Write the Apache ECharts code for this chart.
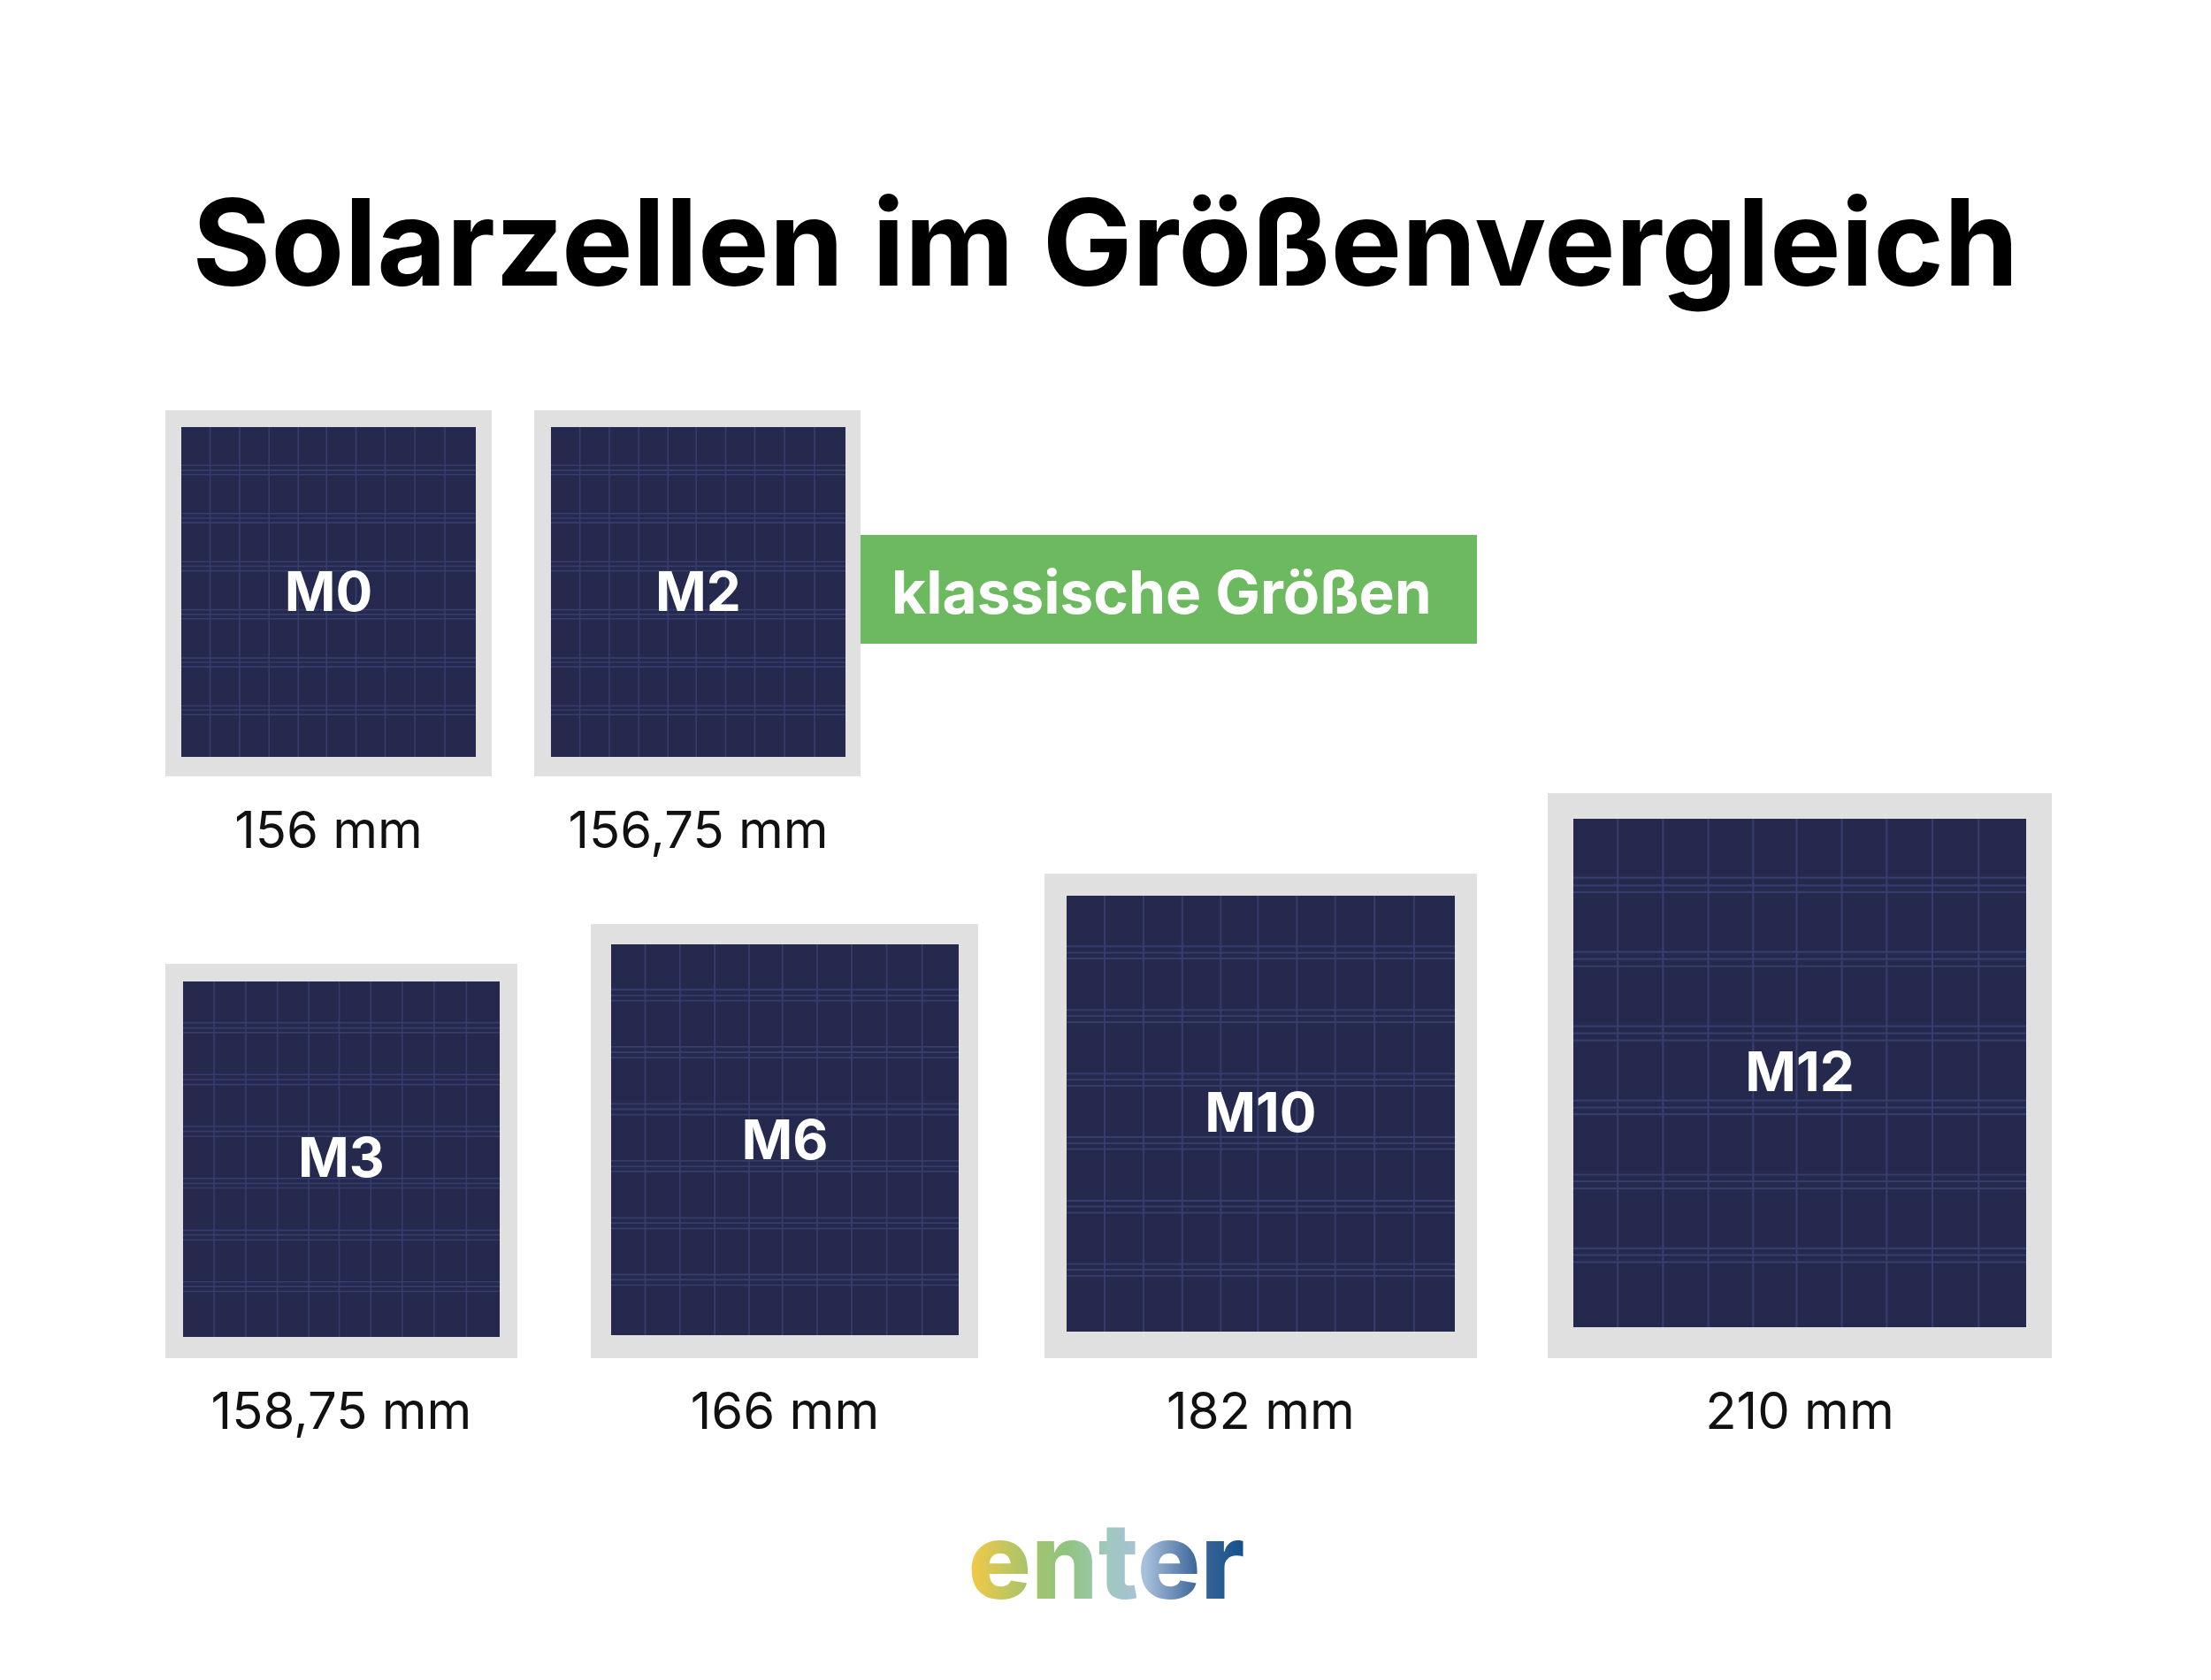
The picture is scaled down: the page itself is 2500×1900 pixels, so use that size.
<!DOCTYPE html>
<html>
<head>
<meta charset="utf-8">
<title>Solarzellen im Größenvergleich</title>
<script src="https://cdn.jsdelivr.net/npm/echarts@6/dist/echarts.min.js"></script>
<style>
  html, body { margin: 0; padding: 0; background: #fff; }
  #main { width: 2500px; height: 1900px; }
</style>
</head>
<body>
<div id="main"></div>
<script>
// values
const cellNames = ['M0', 'M2', 'M3', 'M6', 'M10', 'M12'];
const cellSizes = ['156 mm', '156,75 mm', '158,75 mm', '166 mm', '182 mm', '210 mm'];

// layout in page pixels: frame x0, y0, x1, y1
const frames = [
  [187, 464, 556, 878],
  [604, 464, 973, 878],
  [187, 1090, 585, 1536],
  [668, 1045, 1106, 1536],
  [1181, 988, 1670, 1536],
  [1750, 897, 2320, 1536]
];
const panels = [
  [205, 483, 538, 856],
  [623, 483, 956, 856],
  [207, 1110, 565, 1512],
  [691, 1068, 1084, 1510],
  [1206, 1013, 1645, 1506],
  [1779, 926, 2291, 1501]
];
const labelCenterY = [668, 668, 1308, 1288, 1257, 1211];
const sizeLabelY = [938, 938, 1595, 1595, 1595, 1595];
const gridWidths = [1.6, 1.6, 1.6, 1.8, 2, 2.2];

// grid pattern on a cell, as share of the panel
const verticalLines = [0.098, 0.198, 0.298, 0.397, 0.493, 0.593, 0.692, 0.793, 0.895];
const horizontalLines = [0.116, 0.131, 0.144, 0.262, 0.276, 0.290, 0.408, 0.422, 0.436,
  0.554, 0.568, 0.581, 0.700, 0.713, 0.727, 0.845, 0.858, 0.872];

const FONT = 'Inter, "Noto Sans", sans-serif';
const chart = echarts.init(document.getElementById('main'), null, { renderer: 'svg', width: 2500, height: 1900 });

function rectFrom(api, vals) {
  const a = api.coord([vals[0], vals[1]]);
  const b = api.coord([vals[2], vals[3]]);
  return { x: a[0], y: a[1], width: b[0] - a[0], height: b[1] - a[1] };
}

function renderFrame(params, api) {
  const r = rectFrom(api, [api.value(0), api.value(1), api.value(2), api.value(3)]);
  return { type: 'rect', shape: r, style: { fill: '#e0e0e0' } };
}

function renderPanel(params, api) {
  const i = params.dataIndex;
  const r = rectFrom(api, [api.value(0), api.value(1), api.value(2), api.value(3)]);
  const stroke = { stroke: '#363d6c', lineWidth: gridWidths[i] };
  const children = [{ type: 'rect', shape: r, style: { fill: '#24294d' } }];
  verticalLines.forEach(function (f) {
    const x = r.x + f * r.width;
    children.push({ type: 'line', shape: { x1: x, y1: r.y, x2: x, y2: r.y + r.height }, style: stroke });
  });
  horizontalLines.forEach(function (f) {
    const y = r.y + f * r.height;
    children.push({ type: 'line', shape: { x1: r.x, y1: y, x2: r.x + r.width, y2: y }, style: stroke });
  });
  children.push({
    type: 'text',
    style: {
      x: r.x + r.width / 2, y: labelCenterY[i], text: cellNames[i], fill: '#fff',
      font: '700 62px ' + FONT, textAlign: 'center', textVerticalAlign: 'middle'
    }
  });
  children.push({
    type: 'text',
    style: {
      x: r.x + r.width / 2, y: sizeLabelY[i], text: cellSizes[i], fill: '#111',
      font: '400 58px ' + FONT, textAlign: 'center', textVerticalAlign: 'middle'
    }
  });
  return { type: 'group', children: children };
}

chart.setOption({
  animation: false,
  backgroundColor: '#fff',
  grid: { left: 0, right: 0, top: 0, bottom: 0 },
  xAxis: { type: 'value', min: 0, max: 2500, show: false },
  yAxis: { type: 'value', min: 0, max: 1900, inverse: true, show: false },
  title: {
    text: 'Solarzellen im Größenvergleich',
    left: 'center',
    top: 201,
    textStyle: { fontFamily: FONT, fontWeight: 700, fontSize: 135.5, color: '#000' }
  },
  graphic: [
    {
      type: 'rect', shape: { x: 973, y: 605, width: 697, height: 123 },
      style: { fill: '#6cb95f' }
    },
    {
      type: 'text', x: 1008, y: 669,
      style: { text: 'klassische Größen', fill: '#fff', font: '700 67.5px ' + FONT, verticalAlign: 'middle' }
    },
    {
      type: 'text', x: 1251, y: 1765,
      style: { text: 'enter', fill: '#2a5c93', font: '800 119px ' + FONT, align: 'center', verticalAlign: 'middle' }
    }
  ],
  series: [
    { type: 'custom', coordinateSystem: 'cartesian2d', silent: true, data: frames, renderItem: renderFrame,
      encode: { x: [0, 2], y: [1, 3] } },
    { type: 'custom', coordinateSystem: 'cartesian2d', silent: true, data: panels, renderItem: renderPanel,
      encode: { x: [0, 2], y: [1, 3] }, z: 3 }
  ]
});

// zrender drops gradients on text fills, so the logo gradient is set on the svg node
const logoStops = [
  [0, '#f6c945'], [0.22, '#a6c46c'], [0.36, '#8fc47e'], [0.5, '#9fc8bc'],
  [0.64, '#a8c0dc'], [0.82, '#42699c'], [1, '#13508a']
];
function paintLogo() {
  const svg = document.querySelector('#main svg');
  const NS = 'http://www.w3.org/2000/svg';
  let grad = svg.querySelector('#logoGradient');
  if (!grad) {
    grad = document.createElementNS(NS, 'linearGradient');
    grad.setAttribute('id', 'logoGradient');
    logoStops.forEach(function (s) {
      const stop = document.createElementNS(NS, 'stop');
      stop.setAttribute('offset', s[0]);
      stop.setAttribute('stop-color', s[1]);
      grad.appendChild(stop);
    });
    const defs = document.createElementNS(NS, 'defs');
    defs.appendChild(grad);
    svg.appendChild(defs);
  }
  svg.querySelectorAll('text').forEach(function (t) {
    if (t.textContent === 'enter') t.setAttribute('fill', 'url(#logoGradient)');
  });
}
paintLogo();
chart.on('finished', paintLogo);
</script>
</body>
</html>
